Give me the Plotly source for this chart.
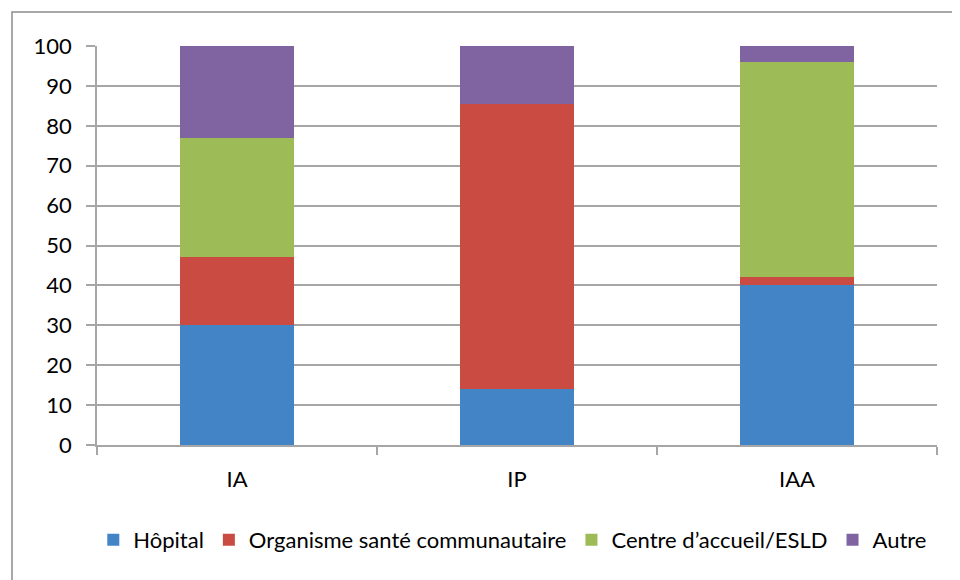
import plotly.graph_objects as go

categories = ["IA", "IP", "IAA"]
hopital = [30, 14, 40]
organisme = [17, 71.5, 2]
centre = [30, 0, 54]
autre = [23, 14.5, 4]

series = [
    ("Hôpital", hopital, "#4284c6"),
    ("Organisme santé communautaire", organisme, "#c94b41"),
    ("Centre d’accueil/ESLD", centre, "#9dbb57"),
    ("Autre", autre, "#8064a2"),
]

fig = go.Figure()
for name, vals, col in series:
    fig.add_trace(go.Bar(x=categories, y=vals, name=name,
                         marker=dict(color=col, line=dict(width=0))))

font = dict(family="Lato, 'Liberation Sans', sans-serif", size=22, color="#000000")
grid = "#a6a6a6"

fig.update_layout(
    barmode="stack",
    bargap=0.593,
    width=960, height=580,
    margin=dict(l=89, r=31, t=38, b=143),
    paper_bgcolor="white", plot_bgcolor="white",
    font=font,
    showlegend=True,
    legend=dict(orientation="h", x=0.495, xanchor="center", y=-0.238, yanchor="middle",
                font=font, itemwidth=30, traceorder="normal"),
    xaxis=dict(showgrid=False, showline=True, linecolor=grid, linewidth=1.5,
               ticks="outside", tickson="boundaries", ticklen=8, tickcolor=grid,
               tickwidth=1.5, ticklabelstandoff=14),
    yaxis=dict(range=[0, 100], dtick=10, showgrid=True, gridcolor=grid, gridwidth=1.5,
               showline=True, linecolor=grid, linewidth=1.5, zeroline=False,
               ticks="outside", ticklen=9, tickcolor=grid, tickwidth=1.5,
               ticklabelstandoff=10),
    shapes=[dict(type="rect", xref="paper", yref="paper",
                 x0=(12 - 97) / 840, x1=1.2, y0=-0.6, y1=(445 - 12) / 399,
                 line=dict(color="#8c8c8c", width=1.5), fillcolor="rgba(0,0,0,0)",
                 layer="below")],
)

fig.write_html("out.html")
